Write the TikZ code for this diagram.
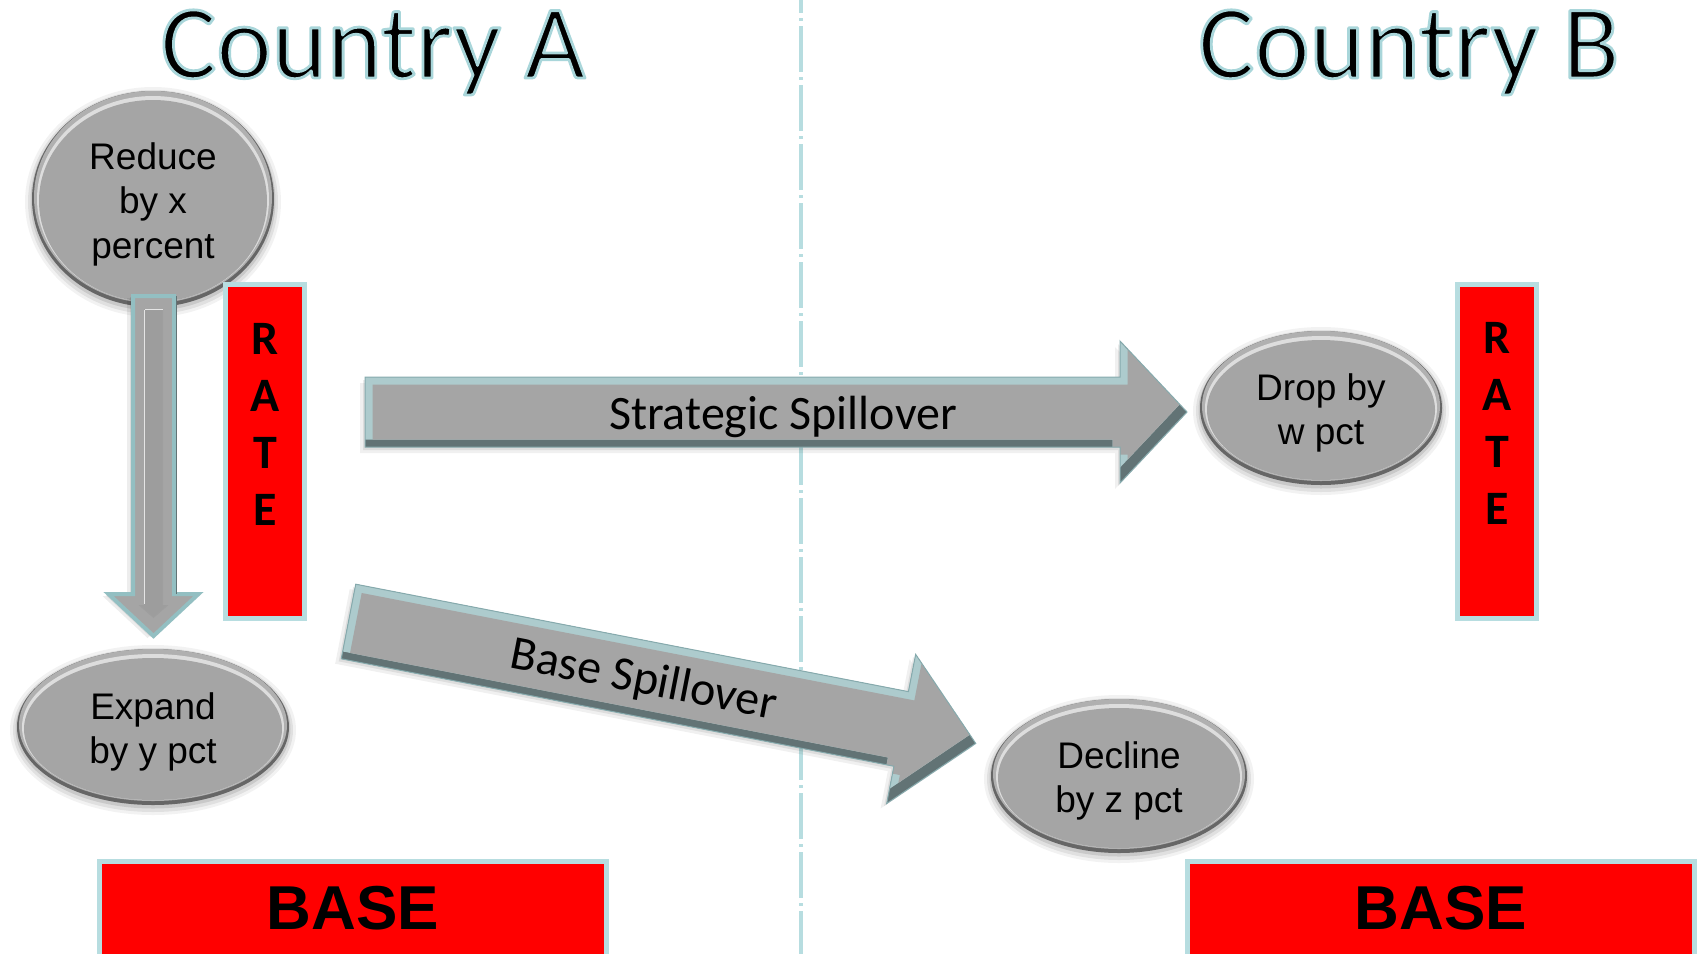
\documentclass[tikz,border=0pt]{standalone}
\usepackage{fontspec}
\newfontfamily\calibri{Carlito}
\newfontfamily\arial{Liberation Sans}
\usetikzlibrary{shapes.geometric,calc}

\definecolor{face}{HTML}{A5A5A5}
\definecolor{rimdark}{HTML}{666666}
\definecolor{rimmid}{HTML}{B0B0B0}
\definecolor{rimhi}{HTML}{DDDDDD}
\definecolor{divider}{HTML}{B7DDE0}
\definecolor{bevlight}{HTML}{ADCBCD}
\definecolor{bevdark}{HTML}{627375}
\definecolor{arrowrim}{HTML}{86AAAD}
\definecolor{downrim}{HTML}{93BFC2}
\definecolor{boxred}{HTML}{FF0000}

% glyphs filled black and stroked with a thin light teal outline
\newcommand\outlined[1]{%
  \special{pdf:literal direct 2 Tr 2.8 w 1 j 0.663 0.839 0.855 RG}#1%
  \special{pdf:literal direct 0 Tr}}

\tikzset{
  knobtext/.style={ellipse, inner sep=0, align=center, text=black,
    font=\arial\fontsize{37}{44.5}\selectfont},
  titletext/.style={anchor=base, inner sep=0, text=black,
    font=\calibri\fontsize{105}{110}\selectfont},
  spilltext/.style={anchor=base, inner sep=0, text=black, font=\calibri\fontsize{48}{52}\selectfont},
  ratebox/.style={rectangle, fill=boxred, draw=divider, line width=5,
    minimum width=79, minimum height=334, inner sep=0},
  ratetext/.style={inner sep=0, align=center, text=black,
    font=\calibri\bfseries\fontsize{48}{57}\selectfont},
  basebox/.style={rectangle, fill=boxred, draw=divider, line width=5,
    minimum width=507, minimum height=117, inner sep=0},
  basetext/.style={inner sep=0, text=black, font=\arial\bfseries\fontsize{62}{70}\selectfont},
}

% bevelled grey ellipse with a soft shadow and a named text node on top
\newcommand\knob[6]{%
  \fill[black,opacity=0.05] (#2,#3+3) ellipse [x radius=#4+7, y radius=#5+7];
  \fill[black,opacity=0.07] (#2,#3+3) ellipse [x radius=#4+4, y radius=#5+4];
  \fill[black,opacity=0.10] (#2,#3+2) ellipse [x radius=#4+1.5, y radius=#5+1.5];
  \fill[rimdark] (#2,#3) ellipse [x radius=#4, y radius=#5];
  \fill[rimmid] (#2,#3-2) ellipse [x radius=#4-2, y radius=#5-2];
  \fill[rimhi] (#2,#3) ellipse [x radius=#4-5, y radius=#5-5];
  \fill[face] (#2,#3+2) ellipse [x radius=#4-7, y radius=#5-7];
  \node[knobtext, minimum width=2*#4, minimum height=2*#5] (#1) at (#2,#3+5) {#6};
}

% bevelled block arrow: options, shaft half width, head start, head half width, tip
\newcommand\blockarrow[5]{%
  \begin{scope}[#1]
    \def\bashape{(0,-#2) -- (#3,-#2) -- (#3,-#4) -- (#5,0) -- (#3,#4) -- (#3,#2) -- (0,#2) -- cycle}
    \fill[black,opacity=0.06,shift={(-5,6)}] \bashape;
    \fill[black,opacity=0.08,shift={(-2,3)}] \bashape;
    \begin{scope}
      \clip \bashape;
      \fill[bevdark] \bashape;
      \fill[bevlight,shift={(-7.5,-7.5)}] \bashape;
      \clip[shift={(-7.5,-7.5)}] \bashape;
      \fill[face,shift={(7.5,7.5)}] \bashape;
    \end{scope}
    \draw[arrowrim, line width=1] \bashape;
  \end{scope}}

\begin{document}
\begin{tikzpicture}[x=1pt,y=-1pt]
  \useasboundingbox (0,0) rectangle (1704,953);
  \clip (0,0) rectangle (1704,953);
  \fill[white] (0,0) rectangle (1704,953);

  % dash-dot divider between the two countries
  \draw[divider, line width=4, dash pattern=on 46 off 5 on 3 off 5]
    (801,-33) -- (801,960);

  % titles
  \node[titletext] (titleA) at (373,78) {\outlined{Country A}};
  \node[titletext] (titleB) at (1409,78) {\outlined{Country B}};

  % ellipses
  \knob{reduce}{153}{199}{121}{108}{Reduce\\by x\\percent}
  \knob{expand}{153}{727}{136}{78}{Expand\\by y pct}
  \knob{drop}{1321}{408}{121}{77}{Drop by\\w pct}
  \knob{decline}{1119}{776}{128}{77}{Decline\\by z pct}

  % RATE columns
  \node[ratebox] (rateA) at (265,451.5) {};
  \node[ratetext] (rateAtext) at ([yshift=27.5pt]rateA.center) {R\\A\\T\\E};
  \node[ratebox] (rateB) at (1497,451) {};
  \node[ratetext] (rateBtext) at ([yshift=27.5pt]rateB.center) {R\\A\\T\\E};

  % BASE bars
  \node[basebox] (baseA) at (353,920) {};
  \node[basetext] (baseAtext) at (353,908.5) {BASE};
  \node[basebox] (baseB) at (1441,920) {};
  \node[basetext] (baseBtext) at (1441,908.5) {BASE};

  % downward arrow from the reduction to the expansion
  \begin{scope}[shift={(153.5,296)}, rotate=-90]
    \def\downshape{(0,-20.5) -- (298,-20.5) -- (298,-45) -- (340,0) -- (298,45) -- (298,20.5) -- (0,20.5) -- cycle}
    \fill[black,opacity=0.07,shift={(2,6)}] \downshape;
    \fill[black,opacity=0.08,shift={(1,3)}] \downshape;
    \fill[face] \downshape;
    \draw[downrim, line width=4, line join=miter] \downshape;
    \draw[bevdark, line width=1] (0,-22.8) -- (298,-22.8);
    \fill[black!38] (13,-9.5) -- (309,-9.5) -- (309,-15) -- (322,0) -- (309,15) -- (309,9.5) -- (13,9.5) -- cycle;
    \fill[face!95!black] (14,-7.5) -- (309,-7.5) -- (309,-12) -- (320,0) -- (309,12) -- (309,9) -- (14,9) -- cycle;
    \draw[white!80!gray, line width=1.2] (13.5,9) -- (308,9);
    \draw[white!80!gray, line width=1.2] (13.5,-9) -- (13.5,9);
  \end{scope}

  % spillover arrows
  \blockarrow{shift={(365,412)}}{35}{755}{71}{822}
  \node[spilltext] (stratlabel) at (783,429) {Strategic Spillover};

  \blockarrow{shift={(348.5,621.5)},rotate=-11}{38}{563}{76}{639}
  \begin{scope}[shift={(348.5,621.5)},rotate=-11]
    \node[spilltext, rotate=-11] (baselabel) at (301,15) {Base Spillover};
  \end{scope}
\end{tikzpicture}
\end{document}
